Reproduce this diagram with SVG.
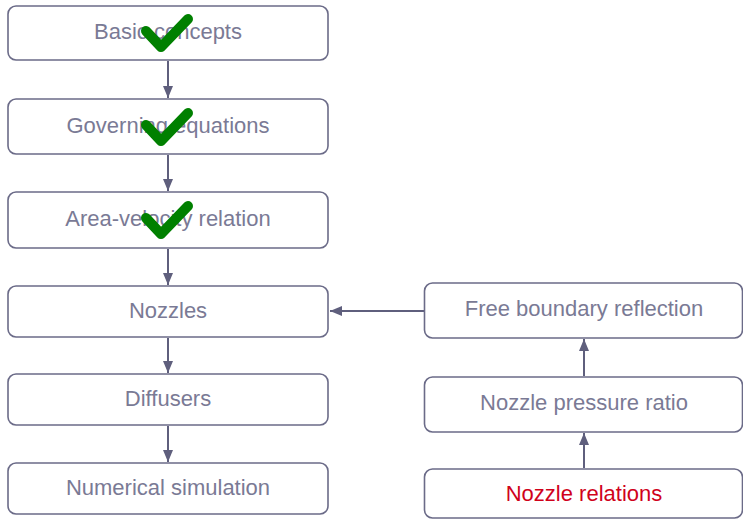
<svg xmlns="http://www.w3.org/2000/svg" width="743" height="520" viewBox="0 0 743 520">
  <defs>
    <style>
      .box { fill: #ffffff; stroke: #6b6b88; stroke-width: 1.6; }
      .lbl { font-family: "Liberation Sans", Arial, sans-serif; font-size: 22px; fill: #7a7a95; text-anchor: middle; }
      .red { fill: #d0021b; }
      .conn { stroke: #5f5f7d; stroke-width: 2; fill: none; marker-end: url(#ah); }
      .check { stroke: #008000; stroke-width: 10; fill: none; stroke-linecap: round; stroke-linejoin: round; }
    </style>
    <marker id="ah" viewBox="0 0 12 10" refX="12" refY="5" markerWidth="12" markerHeight="10" markerUnits="userSpaceOnUse" orient="auto">
      <path d="M0,0 L12,5 L0,10 Z" fill="#5f5f7d"/>
    </marker>
  </defs>
  <rect width="743" height="520" fill="#ffffff"/>

  <g id="connectors">
    <line class="conn" x1="168" y1="61" x2="168" y2="98"/>
    <line class="conn" x1="168" y1="155" x2="168" y2="191"/>
    <line class="conn" x1="168" y1="249" x2="168" y2="285"/>
    <line class="conn" x1="168" y1="338" x2="168" y2="373"/>
    <line class="conn" x1="168" y1="426" x2="168" y2="462"/>
    <line class="conn" x1="424" y1="311" x2="330" y2="311"/>
    <line class="conn" x1="584" y1="376" x2="584" y2="339"/>
    <line class="conn" x1="584" y1="468" x2="584" y2="433"/>
  </g>

  <g id="basic-concepts">
    <rect class="box" x="8" y="6" width="320" height="54" rx="8"/>
    <text class="lbl" x="168" y="39">Basic concepts</text>
    <path class="check" d="M146,31 L161,47 L188,19"/>
  </g>
  <g id="governing-equations">
    <rect class="box" x="8" y="99" width="320" height="55" rx="8"/>
    <text class="lbl" x="168" y="133">Governing equations</text>
    <path class="check" d="M146,125 L161,141 L188,113"/>
  </g>
  <g id="area-velocity">
    <rect class="box" x="8" y="192" width="320" height="56" rx="8"/>
    <text class="lbl" x="168" y="226">Area-velocity relation</text>
    <path class="check" d="M146,218 L161,234 L188,206"/>
  </g>
  <g id="nozzles">
    <rect class="box" x="8" y="286" width="320" height="51" rx="8"/>
    <text class="lbl" x="168" y="318">Nozzles</text>
  </g>
  <g id="diffusers">
    <rect class="box" x="8" y="374" width="320" height="51" rx="8"/>
    <text class="lbl" x="168" y="406">Diffusers</text>
  </g>
  <g id="numerical-simulation">
    <rect class="box" x="8" y="463" width="320" height="51" rx="8"/>
    <text class="lbl" x="168" y="495">Numerical simulation</text>
  </g>

  <g id="free-boundary-reflection">
    <rect class="box" x="424.5" y="283" width="318" height="55" rx="8"/>
    <text class="lbl" x="584" y="316">Free boundary reflection</text>
  </g>
  <g id="nozzle-pressure-ratio">
    <rect class="box" x="424.5" y="377" width="318" height="55" rx="8"/>
    <text class="lbl" x="584" y="410">Nozzle pressure ratio</text>
  </g>
  <g id="nozzle-relations">
    <rect class="box" x="424.5" y="469" width="318" height="49" rx="8"/>
    <text class="lbl red" x="584" y="501">Nozzle relations</text>
  </g>
</svg>
